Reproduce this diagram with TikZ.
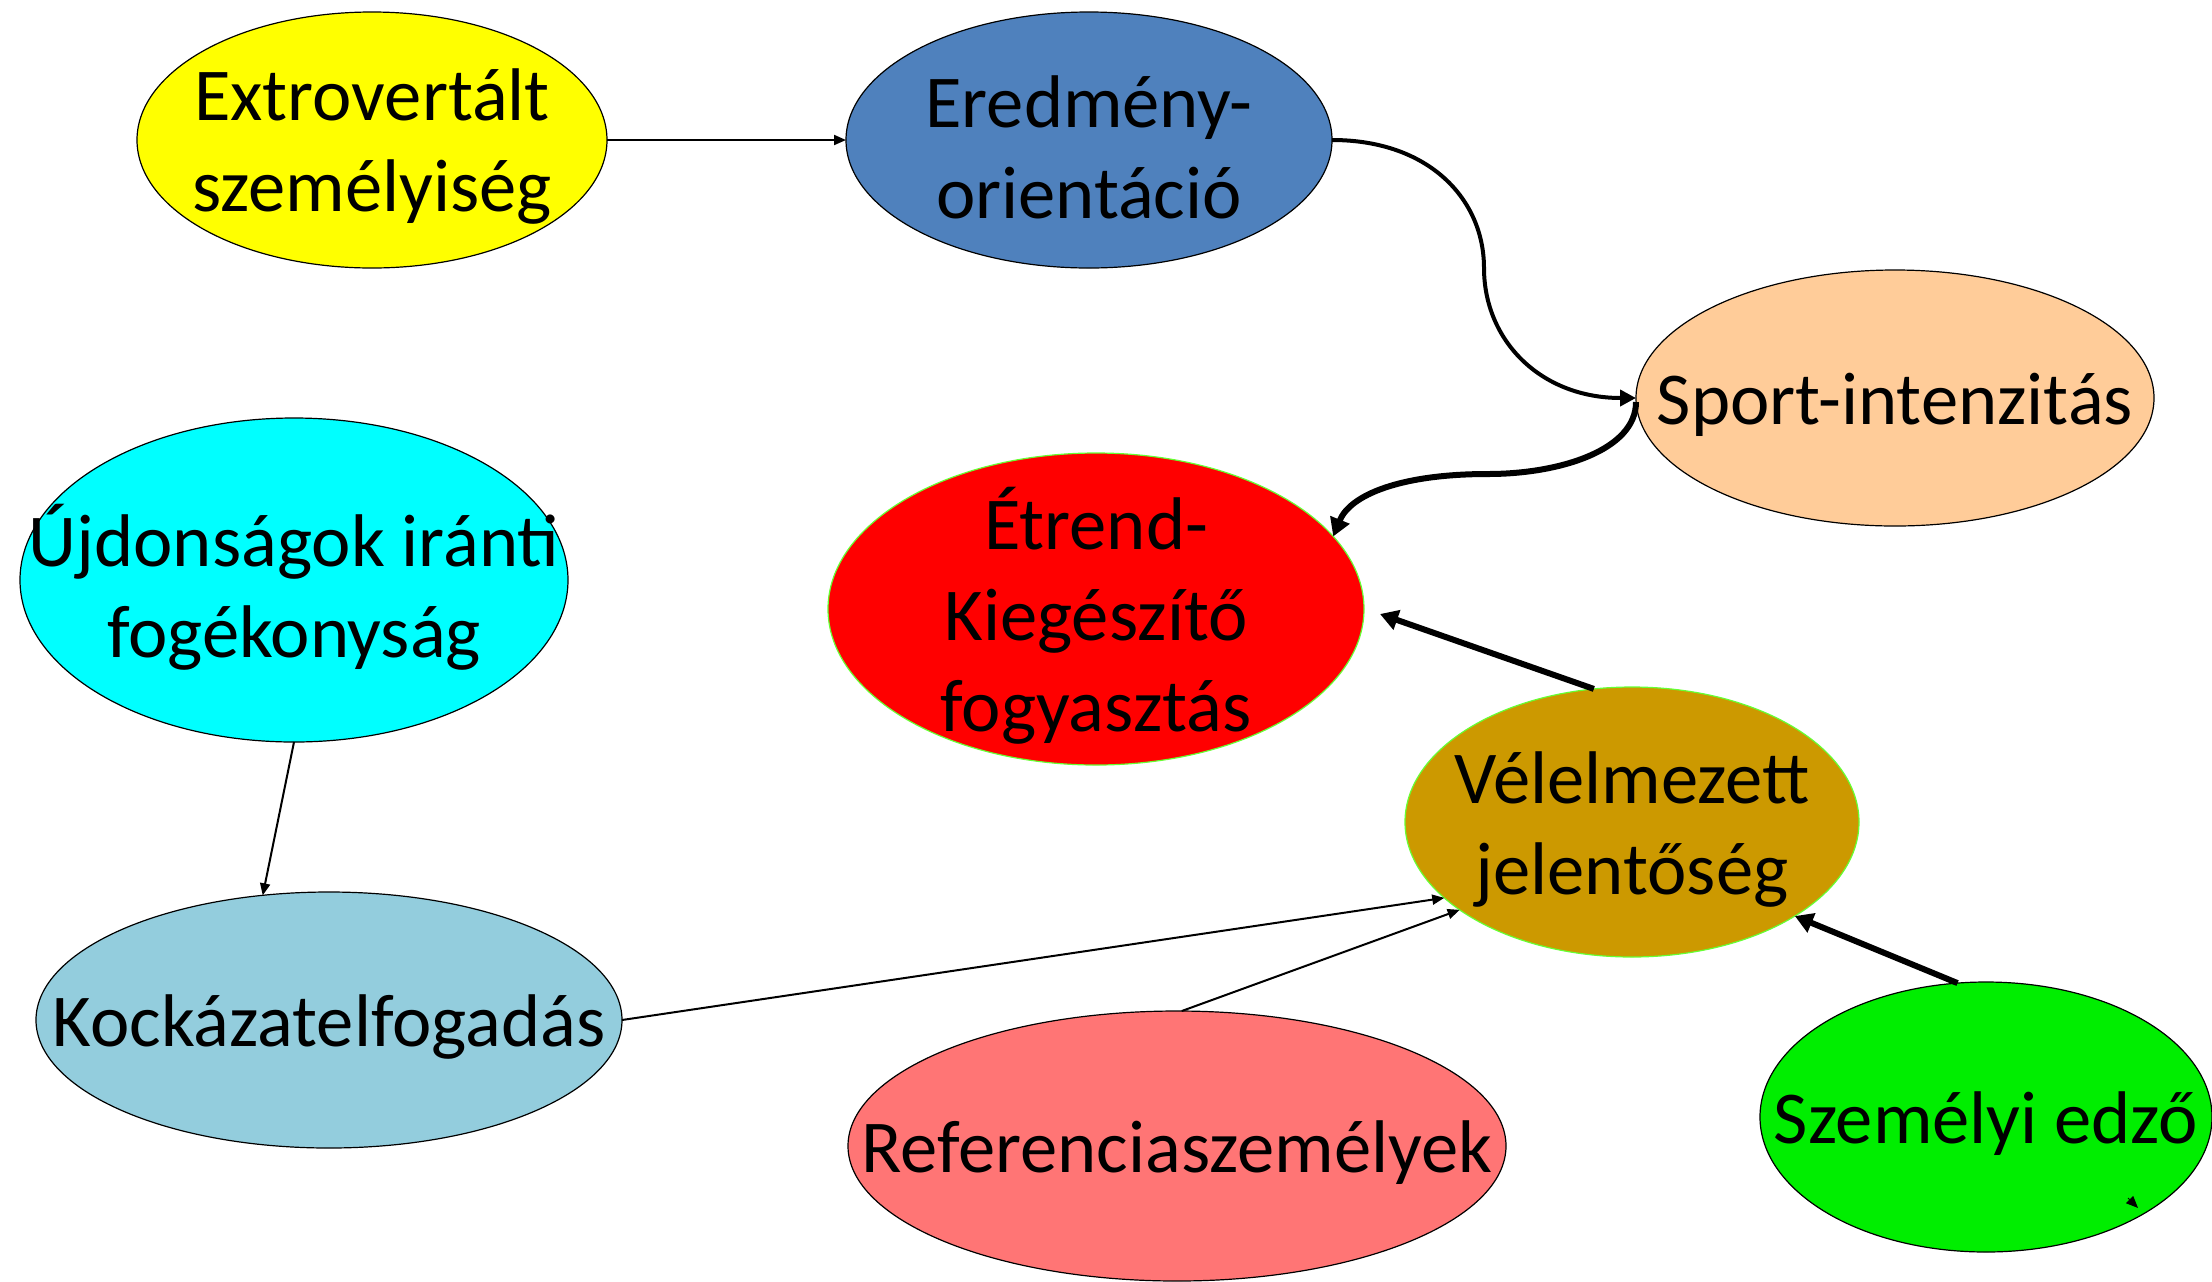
\documentclass[tikz,border=0pt]{standalone}
\usepackage{fontspec}
\setmainfont{Carlito}
\usetikzlibrary{shapes.geometric,arrows.meta}
\definecolor{cYel}{HTML}{FFFF00}
\definecolor{cBlue}{HTML}{4F81BD}
\definecolor{cPeach}{HTML}{FFCC99}
\definecolor{cRed}{HTML}{FF0000}
\definecolor{cCyan}{HTML}{00FFFF}
\definecolor{cLBlue}{HTML}{93CDDD}
\definecolor{cGold}{HTML}{CC9900}
\definecolor{cPink}{HTML}{FF7575}
\definecolor{cGreen}{HTML}{00EE00}
\definecolor{cEdge}{HTML}{66FF33}
\begin{document}
\begin{tikzpicture}[x=0.5pt,y=-0.5pt,
  oval/.style={ellipse, draw=black, line width=0.6pt, inner sep=0pt, outer sep=0pt},
  lbl/.style={align=center, font=\fontsize{37.3}{45.5}\selectfont, inner sep=0pt, yshift=-3.5pt},
  thin/.style={line width=1pt, -{Triangle[length=6pt,width=5pt]}},
  thick/.style={line width=3pt, -{Triangle[length=9pt,width=10pt]}},
  mid/.style={line width=2pt, -{Triangle[length=8pt,width=8pt]}}]
\useasboundingbox[fill=white] (0,0) rectangle (2212,1281);

\node[oval, fill=cYel, minimum width=235pt, minimum height=128pt] (extro) at (372,140) {};
\node[oval, fill=cBlue, minimum width=243pt, minimum height=128pt] (ered) at (1089,140) {};
\node[oval, fill=cPeach, minimum width=259pt, minimum height=128pt] (sport) at (1895,398) {};
\node[oval, fill=cRed, draw=cEdge, minimum width=268pt, minimum height=156pt] (etr) at (1096,609) {};
\node[oval, fill=cCyan, minimum width=274pt, minimum height=162pt] (ujd) at (294,580) {};
\node[oval, fill=cLBlue, minimum width=293pt, minimum height=128pt] (kock) at (329,1020) {};
\node[oval, fill=cGold, draw=cEdge, minimum width=227pt, minimum height=135pt] (vel) at (1632,822) {};
\node[oval, fill=cPink, minimum width=329pt, minimum height=135pt] (ref) at (1177,1146) {};
\node[oval, fill=cGreen, minimum width=226pt, minimum height=135pt] (szem) at (1986,1117) {};

\node[lbl] (t1) at (extro) {Extrovertált\\személyiség};
\node[lbl] (t2) at (ered) {Eredmény-\\orientáció};
\node[lbl] (t3) at (sport) {Sport-intenzitás};
\node[lbl] (t4) at (etr) {Étrend-\\Kiegészítő\\fogyasztás};
\node[lbl] (t5) at (ujd) {Újdonságok iránti\\fogékonyság};
\node[lbl] (t6) at (kock) {Kockázatelfogadás};
\node[lbl] (t7) at (vel) {Vélelmezett\\jelentőség};
\node[lbl] (t8) at (ref) {Referenciaszemélyek};
\node[lbl] (t9) at (szem) {Személyi edző};

\draw[thin] (extro) -- (ered);
\draw[mid] (ered.east) .. controls (1430,140) and (1484,200) .. (1484,268)
   .. controls (1484,340) and (1540,398) .. (sport.west);
\draw[thick] ([yshift=-2pt]sport.west) .. controls (1636,450) and (1560,474) .. (1488,474)
   .. controls (1400,474) and (1350,495) .. (etr.17);
\draw[thick] (vel.106) -- ([shift={(16,5)}]etr.east);
\draw[thin] (ujd.south) -- (kock.118);
\draw[thin] (kock.east) -- (vel.202);
\draw[thin] (ref.88) -- (vel.207);
\draw[thick] (szem.102) -- (vel.330);
\coordinate (stubA) at (2128,1198);
\coordinate (stubB) at (2138,1208);
\draw[line width=0.5pt, -{Triangle[length=6pt,width=5pt]}] (stubA) -- (stubB);
\end{tikzpicture}
\end{document}
